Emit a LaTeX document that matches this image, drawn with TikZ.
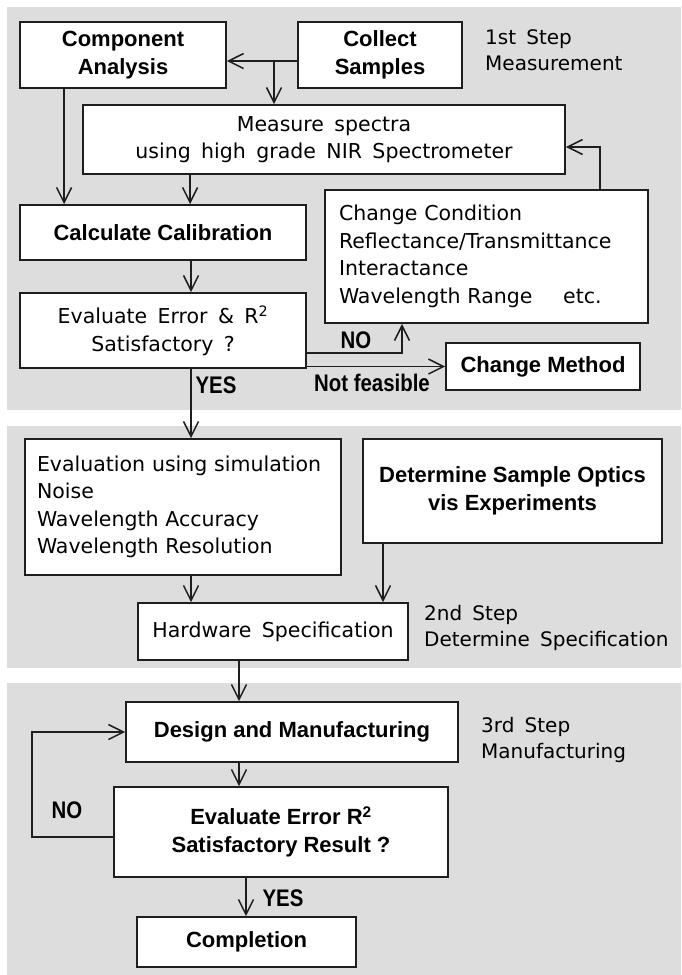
\documentclass[tikz,border=0pt]{standalone}
\usepackage{fontspec}
\setmainfont{DejaVu Sans}[WordSpace=1.6]
\newfontfamily\heavyfont{Liberation Sans}
\newfontfamily\lblfont{Liberation Sans}[FakeStretch=0.85]
\usetikzlibrary{arrows.meta,positioning}
\definecolor{bandgray}{RGB}{221,221,221}
\definecolor{inkc}{RGB}{30,30,30}

\begin{document}
\begin{tikzpicture}[x=1pt, y=-1pt,
  band/.style={fill=bandgray, draw=none},
  box/.style={draw=inkc, fill=white, line width=1.8pt, align=center, inner sep=0pt, font={\fontsize{20.5}{27.5}\selectfont}},
  hbox/.style={box, font={\heavyfont\bfseries\fontsize{22}{28}\selectfont}},
  lbox/.style={box, align=left},
  arr/.style={draw=inkc, line width=1.5pt, -{Straight Barb[length=15pt,width=15pt]}},
  lbl/.style={font={\lblfont\bfseries\fontsize{24}{24}\selectfont}, inner sep=0pt},
  stepnote/.style={align=left, anchor=west, inner sep=0pt, font={\fontsize{20}{26}\selectfont}}
]
\useasboundingbox[fill=white] (0,0) rectangle (681,975);
\fill[band] (7,7) rectangle (681,410);
\fill[band] (7,426) rectangle (681,668);
\fill[band] (7,683) rectangle (681,975);

% 1st step
\node[hbox, minimum width=206pt, minimum height=66pt] (comp) at (123,55) {Component\\Analysis};
\node[hbox, minimum width=164pt, minimum height=66pt] (coll) at (380,55) {Collect\\Samples};
\node[box, minimum width=482pt, minimum height=69pt] (meas) at (324,139.5) {Measure spectra\\using high grade NIR Spectrometer};
\node[hbox, minimum width=286pt, minimum height=55pt] (calc) at (163,232.5) {Calculate Calibration};
\node[lbox, inner xsep=14pt, text width=295pt, minimum height=133pt] (cond) at (486.5,256.5) {Change Condition\\Reflectance/Transmittance\\Interactance\\Wavelength Range\hspace{1.5em}etc.};
\node[box, minimum width=286pt, minimum height=75pt] (eval) at (163,330.5) {Evaluate Error \& R\textsuperscript{2}\\Satisfactory ?};
\node[hbox, minimum width=194pt, minimum height=47pt] (meth) at (543,366.5) {Change Method};
\node[stepnote] (s1) at (485,50) {1st Step\\Measurement};

% 2nd step
\node[lbox, inner xsep=12pt, text width=292pt, minimum height=136pt] (simu) at (183,507) {Evaluation using simulation\\Noise\\Wavelength Accuracy\\Wavelength Resolution};
\node[hbox, minimum width=299pt, minimum height=104pt] (optic) at (512.5,491) {Determine Sample Optics\\vis Experiments};
\node[box, minimum width=270pt, minimum height=57pt] (hard) at (273,631.5) {Hardware Specification};
\node[stepnote] (s2) at (424,628) {2nd Step\\Determine Specification};

% 3rd step
\node[hbox, minimum width=332pt, minimum height=60pt] (dsgn) at (292,732) {Design and Manufacturing};
\node[hbox, minimum width=334pt, minimum height=90pt] (recheck) at (281,832) {Evaluate Error R\textsuperscript{2}\\Satisfactory Result ?};
\node[hbox, minimum width=219pt, minimum height=50pt] (done) at (246.5,942) {Completion};
\node[stepnote] (s3) at (481,740) {3rd Step\\Manufacturing};

% connectors
\coordinate (split) at (274,61);
\draw[arr] ([yshift=-6pt]coll.west) -- ([yshift=-6pt]comp.east);
\draw[arr] (split) -- (split |- meas.north);
\draw[arr] ([xshift=45pt]comp.south west) -- ([xshift=45pt]comp.south west |- calc.north);
\draw[arr] ([xshift=108pt]meas.south west) -- ([xshift=108pt]meas.south west |- calc.north);
\draw[arr] ([xshift=28pt]calc.south) -- ([xshift=28pt]calc.south |- eval.north);
\draw[arr] ([xshift=113.5pt]cond.north) |- ([yshift=-7.5pt]meas.east);
\draw[arr] ([yshift=-22.5pt]eval.east) -| ([xshift=-84.5pt]cond.south);
\draw[arr] (eval.east |- meth.west) -- (meth.west);
\node[lbl] (no1) at (356,340) {NO};
\node[lbl] (nf) at (372,383) {Not feasible};
\node[lbl] (yes1) at (216,385) {YES};
\draw[arr] ([xshift=28pt]eval.south) -- ([xshift=28pt]eval.south |- simu.north);
\draw[arr] ([xshift=8pt]simu.south) -- ([xshift=8pt]simu.south |- hard.north);
\draw[arr] ([xshift=-129.5pt]optic.south) -- ([xshift=-129.5pt]optic.south |- hard.north);
\draw[arr] ([xshift=-34pt]hard.south) -- ([xshift=-34pt]hard.south |- dsgn.north);
\draw[arr] ([xshift=-53pt]dsgn.south) -- ([xshift=-53pt]dsgn.south |- recheck.north);
\draw[arr] ([yshift=-5pt]recheck.west) -- ++(-81,0) |- (dsgn.west);
\node[lbl] (no2) at (67,810) {NO};
\draw[arr] ([xshift=-35pt]recheck.south) -- ([xshift=-35pt]recheck.south |- done.north);
\node[lbl] (yes2) at (283,898) {YES};
\end{tikzpicture}
\end{document}
